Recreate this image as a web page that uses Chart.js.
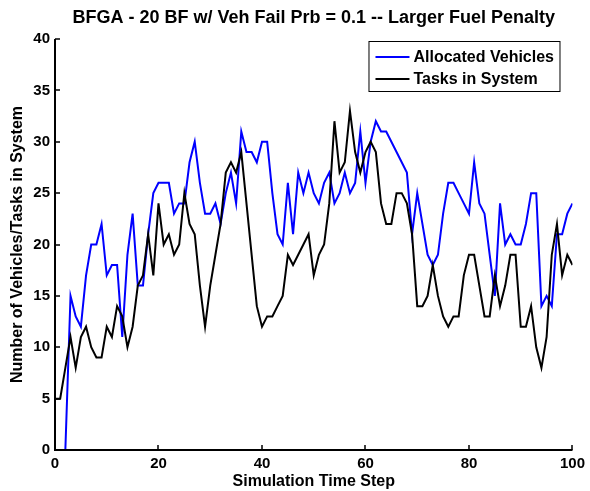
<!DOCTYPE html>
<html>
<head>
<meta charset="utf-8">
<script src="https://cdn.jsdelivr.net/npm/chart.js@4/dist/chart.umd.min.js"></script>
<style>
  html, body { margin: 0; padding: 0; background: #ffffff; }
  #wrap { width: 590px; height: 491px; }
</style>
</head>
<body>
<div id="wrap"><canvas id="chart" width="590" height="491"></canvas></div>
<script>
// Simulation time steps 0..100
const timeSteps = Array.from({ length: 101 }, (_, i) => i);

// Vehicles allocated at each step
const allocatedVehicles = [
  0, 0, 0, 15, 13, 12, 17, 20, 20, 22,
  17, 18, 18, 11, 19, 23, 16, 16, 21, 25,
  26, 26, 26, 23, 24, 24, 28, 30, 26, 23,
  23, 24, 22, 25, 27, 24, 31, 29, 29, 28,
  30, 30, 25, 21, 20, 26, 21, 27, 25, 27,
  25, 24, 26, 27, 24, 25, 27, 25, 26, 31,
  26, 30, 32, 31, 31, 30, 29, 28, 27, 21,
  25, 22, 19, 18, 19, 23, 26, 26, 25, 24,
  23, 28, 24, 23, 19, 15, 24, 20, 21, 20,
  20, 22, 25, 25, 14, 15, 14, 21, 21, 23,
  24
];

// Tasks present in the system at each step
const tasksInSystem = [
  5, 5, 8, 11, 8, 11, 12, 10, 9, 9,
  12, 11, 14, 13, 10, 12, 16, 17, 21, 17,
  24, 20, 21, 19, 20, 25, 22, 21, 16, 12,
  16, 19, 22, 27, 28, 27, 29, 24, 19, 14,
  12, 13, 13, 14, 15, 19, 18, 19, 20, 21,
  17, 19, 20, 24, 32, 27, 28, 33, 29, 27,
  29, 30, 29, 24, 22, 22, 25, 25, 24, 21,
  14, 14, 15, 18, 15, 13, 12, 13, 13, 17,
  19, 19, 16, 13, 13, 17, 14, 16, 19, 19,
  12, 12, 14, 10, 8, 11, 19, 22, 17, 19,
  18
];

const xTickValues = [0, 20, 40, 60, 80, 100];
const yTickValues = [0, 5, 10, 15, 20, 25, 30, 35, 40];

const FONT = "'Liberation Sans', Arial, Helvetica, sans-serif";

// Axis lines with inward tick marks, drawn above the data lines
const axesOverlay = {
  id: 'axesOverlay',
  afterDatasetsDraw(chart) {
    const { ctx, chartArea: a } = chart;
    const xs = chart.scales.x, ys = chart.scales.y;
    const len = 5;
    ctx.save();
    ctx.strokeStyle = '#000000';
    ctx.lineWidth = 2;
    ctx.lineCap = 'butt';
    ctx.beginPath();
    ctx.moveTo(a.left, ys.getPixelForValue(40));
    ctx.lineTo(a.left, a.bottom);
    ctx.lineTo(xs.getPixelForValue(100), a.bottom);
    ctx.stroke();
    ctx.lineWidth = 1.5;
    ctx.beginPath();
    xs.ticks.forEach(t => {
      const px = Math.round(xs.getPixelForValue(t.value));
      ctx.moveTo(px, a.bottom);
      ctx.lineTo(px, a.bottom - len);
    });
    ys.ticks.forEach(t => {
      const py = Math.round(ys.getPixelForValue(t.value));
      ctx.moveTo(a.left, py);
      ctx.lineTo(a.left + len, py);
    });
    ctx.stroke();
    ctx.restore();
  }
};

// Boxed legend in the upper right of the plot area
const boxedLegend = {
  id: 'boxedLegend',
  afterDraw(chart) {
    const { ctx, chartArea: a } = chart;
    const w = 191, h = 50;
    const left = a.right - 13 - w;
    const top = a.top + 2;
    ctx.save();
    ctx.fillStyle = '#ffffff';
    ctx.fillRect(left, top, w, h);
    ctx.strokeStyle = '#000000';
    ctx.lineWidth = 1;
    ctx.strokeRect(left + 0.5, top + 0.5, w, h);
    ctx.font = 'bold 16px ' + FONT;
    ctx.textBaseline = 'middle';
    ctx.textAlign = 'left';
    chart.data.datasets.forEach((ds, i) => {
      const y = top + 16 + i * 22;
      ctx.strokeStyle = ds.borderColor;
      ctx.lineWidth = 2;
      ctx.beginPath();
      ctx.moveTo(left + 7, y);
      ctx.lineTo(left + 41, y);
      ctx.stroke();
      ctx.fillStyle = '#000000';
      ctx.fillText(ds.label, left + 45, y + 1);
    });
    ctx.restore();
  }
};

new Chart(document.getElementById('chart'), {
  type: 'line',
  data: {
    labels: timeSteps,
    datasets: [
      {
        label: 'Allocated Vehicles',
        data: timeSteps.map((t, i) => ({ x: t, y: allocatedVehicles[i] })),
        borderColor: '#0000ff',
        borderWidth: 2,
        pointRadius: 0,
        tension: 0,
        fill: false,
        order: 1
      },
      {
        label: 'Tasks in System',
        data: timeSteps.map((t, i) => ({ x: t, y: tasksInSystem[i] })),
        borderColor: '#000000',
        borderWidth: 2,
        pointRadius: 0,
        tension: 0,
        fill: false,
        order: 0
      }
    ]
  },
  options: {
    responsive: false,
    animation: false,
    devicePixelRatio: 1,
    layout: { padding: { top: 0, right: 13, bottom: 0, left: 0 } },
    plugins: {
      legend: { display: false },
      tooltip: { enabled: false },
      title: {
        display: true,
        fullSize: false,
        text: 'BFGA - 20 BF w/ Veh Fail Prb = 0.1 -- Larger Fuel Penalty',
        color: '#000000',
        font: { family: FONT, size: 18, weight: 'bold' },
        padding: { top: 7.5, bottom: 9.9 }
      }
    },
    scales: {
      x: {
        type: 'linear',
        min: 0,
        max: 100,
        afterBuildTicks: s => { s.ticks = xTickValues.map(v => ({ value: v })); },
        afterFit: s => { s.height = 41; },
        grid: { display: false, drawTicks: false },
        border: { display: false },
        ticks: {
          color: '#000000',
          padding: 5,
          maxRotation: 0,
          font: { family: FONT, size: 15, weight: 'bold' }
        },
        title: {
          display: true,
          text: 'Simulation Time Step',
          color: '#000000',
          font: { family: FONT, size: 16, weight: 'bold' },
          padding: { top: 4, bottom: 0 }
        }
      },
      y: {
        type: 'linear',
        min: 0,
        max: 40,
        afterBuildTicks: s => { s.ticks = yTickValues.map(v => ({ value: v })); },
        afterFit: s => { s.width = 55; },
        grid: { display: false, drawTicks: false },
        border: { display: false },
        ticks: {
          color: '#000000',
          padding: 5,
          font: { family: FONT, size: 15, weight: 'bold' }
        },
        title: {
          display: true,
          text: 'Number of Vehicles/Tasks in System',
          color: '#000000',
          font: { family: FONT, size: 16, weight: 'bold' },
          padding: { top: 8, bottom: 0 }
        }
      }
    }
  },
  plugins: [axesOverlay, boxedLegend]
});
</script>
</body>
</html>
